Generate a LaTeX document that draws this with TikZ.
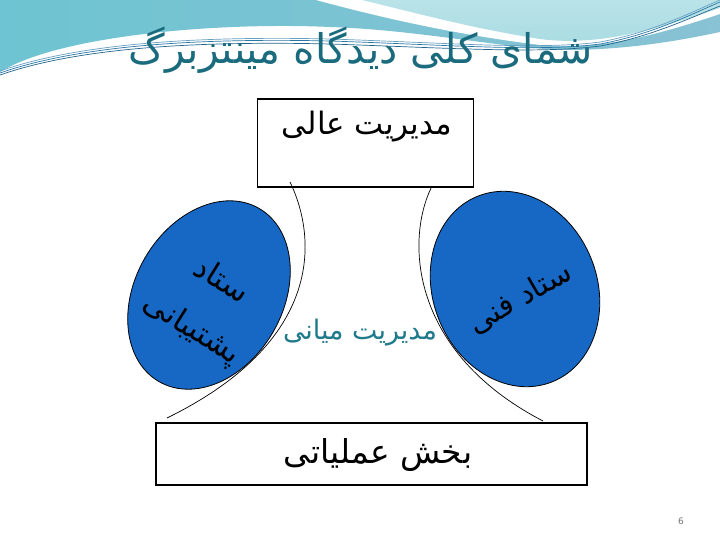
\documentclass[tikz,border=0pt]{standalone}
\usepackage{fontspec}
\setmainfont{DejaVu Sans}
\newfontfamily\arfont[Script=Arabic]{DejaVu Sans}
\TeXXeTstate=1
\usetikzlibrary{shapes.geometric}
\definecolor{darkteal}{RGB}{110,196,210}
\definecolor{midteal}{RGB}{136,194,212}
\definecolor{lightteal}{RGB}{168,220,226}
\definecolor{lineblue}{RGB}{40,120,166}
\definecolor{titleteal}{RGB}{27,107,126}
\definecolor{midtext}{RGB}{31,122,140}
\definecolor{ellblue}{RGB}{22,104,196}
\tikzset{
  boxnode/.style={draw=black, line width=1.2bp, fill=white, inner sep=0pt},
  ellnode/.style={ellipse, draw=black, line width=0.8bp, fill=ellblue, inner sep=0pt},
  txt/.style={inner sep=0pt, font=\arfont\fontsize{31}{36}\selectfont},
  conn/.style={draw=black, line width=0.7bp},
  swoosh/.style={line width=0.7bp},
}
\begin{document}
\begin{tikzpicture}[x=1bp,y=-1bp]
\useasboundingbox (0,0) rectangle (720,540);
\fill[white] (0,0) rectangle (720,540);
% banner
\shade[left color=darkteal, right color=midteal]
  (0,0) -- (720,0) -- (720,32) .. controls (660,45) and (610,50) .. (565,50)
  .. controls (500,48) and (420,30) .. (330,27)
  .. controls (220,22) and (60,35) .. (0,72) -- cycle;
\fill[white] (316,0) .. controls (390,20) and (460,35) .. (540,45)
  .. controls (600,51) and (660,34) .. (720,14) -- (720,0) -- cycle;
\shade[top color=lightteal!80!white, bottom color=lightteal]
  (362,0) .. controls (412,12) and (470,28) .. (540,39)
  .. controls (600,47) and (660,28) .. (720,8) -- (720,0) -- cycle;
\draw[swoosh, draw=lineblue] (0,73) .. controls (80,45) and (200,38) .. (330,41)
  .. controls (450,45) and (540,52) .. (600,44) .. controls (650,35) and (690,15) .. (720,2);
\draw[swoosh, draw=lineblue!70!white] (0,71) .. controls (80,43) and (200,36) .. (330,39)
  .. controls (450,43) and (540,50) .. (600,42) .. controls (650,33) and (690,13) .. (720,0);
\draw[swoosh, draw=lineblue!85!black] (0,75) .. controls (80,47) and (200,41) .. (330,44)
  .. controls (450,48) and (540,54) .. (600,46) .. controls (650,37) and (690,18) .. (720,6);
% title
\node[txt, font=\arfont\fontsize{41}{46}\selectfont, text=titleteal] (title) at (361,50) {\beginR شمای کلی دیدگاه مینتزبرگ\endR};
% boxes
\node[boxnode, minimum width=216bp, minimum height=88bp] (topbox) at (365.5,143) {};
\node[txt] (toptext) at (367,127) {\beginR مدیریت عالی\endR};
\node[boxnode, minimum width=431bp, minimum height=62bp] (botbox) at (371.5,454) {};
\node[txt, font=\arfont\fontsize{33}{38}\selectfont] (bottext) at (378,455) {\beginR بخش عملیاتی\endR};
% ellipses
\node[ellnode, minimum width=148bp, minimum height=200bp, rotate=-30] (leftell) at (209,295) {};
\node[ellnode, minimum width=164bp, minimum height=200bp, rotate=22] (rightell) at (515,289) {};
\node[txt, align=center, rotate=-32, font=\arfont\fontsize{31}{56}\selectfont] (lefttext) at (206,306) {\beginR ستاد\endR\\\beginR پشتیبانی\endR};
\node[txt, rotate=30, font=\arfont\fontsize{30}{34}\selectfont] (righttext) at (520,298) {\beginR ستاد فنی\endR};
% connectors
\coordinate (lt) at (290,182);
\coordinate (lb) at (167,418);
\coordinate (rt) at (432,186);
\coordinate (rb) at (543,421);
\draw[conn] (lt) .. controls (318,240) and (322,342) .. (lb);
\draw[conn] (rt) .. controls (405,240) and (410,352) .. (rb);
% middle text
\node[txt, font=\arfont\fontsize{27}{32}\selectfont, text=midtext] (midtext) at (360,333) {\beginR مدیریت میانی\endR};
% page number
\node[inner sep=0pt, font=\fontsize{9}{11}\selectfont, text=black!55] (pagenum) at (681,521) {6};
\end{tikzpicture}
\end{document}
